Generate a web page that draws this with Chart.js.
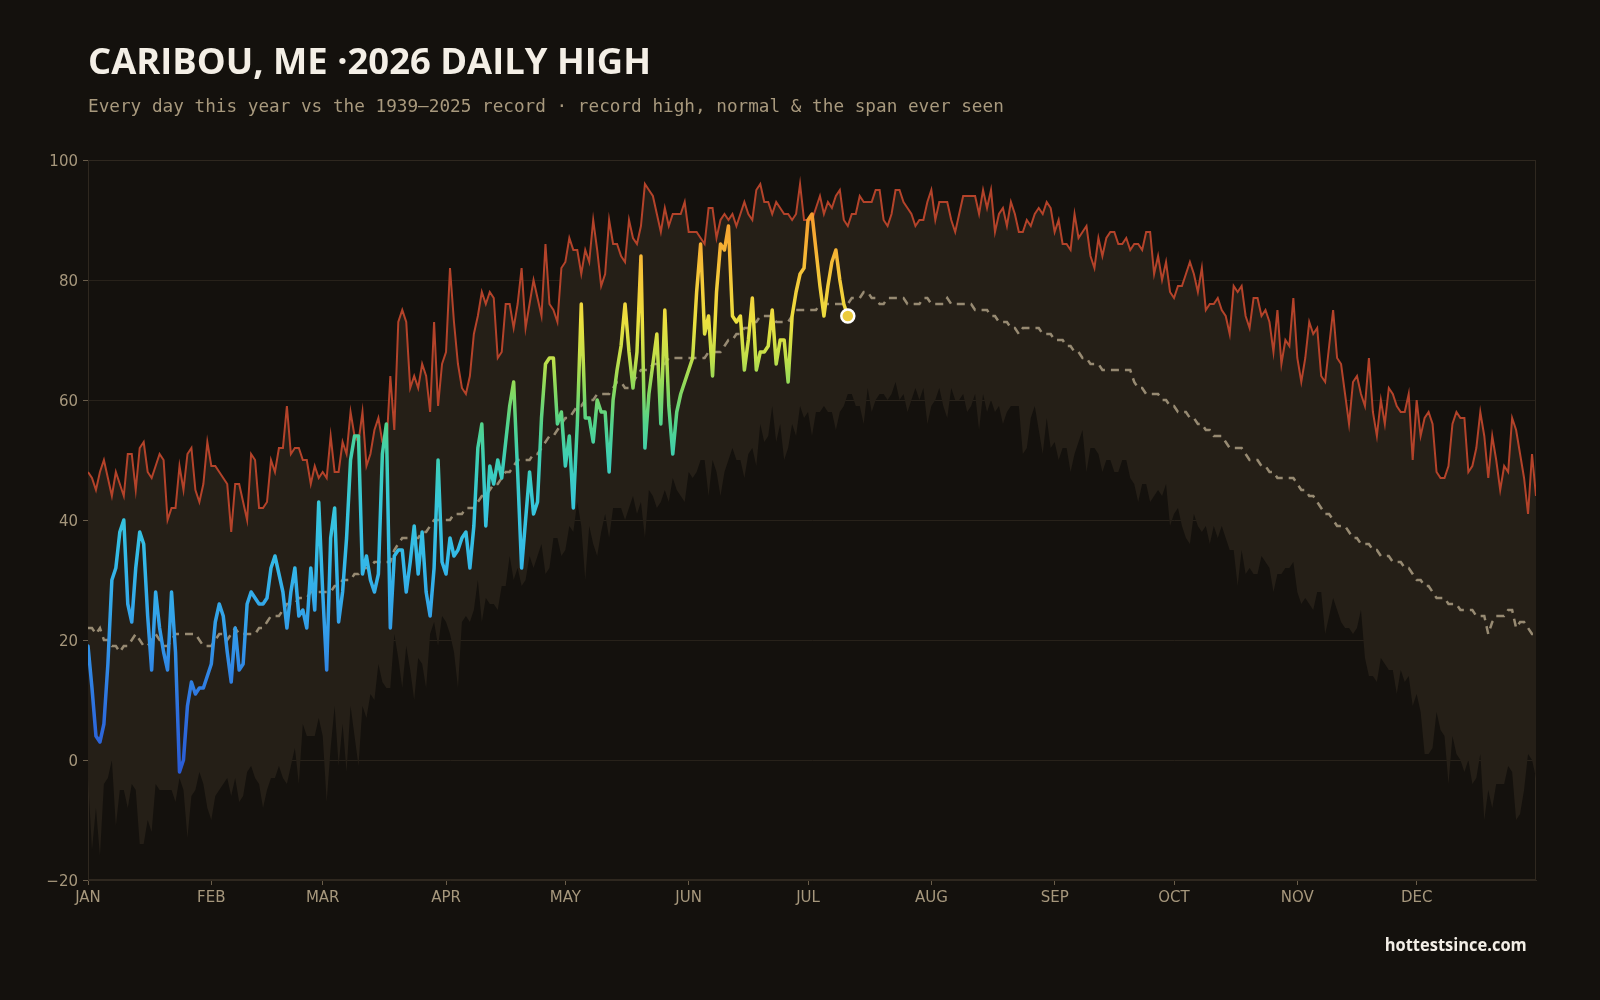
<!DOCTYPE html>
<html>
<head>
<meta charset="utf-8">
<script src="https://cdn.jsdelivr.net/npm/chart.js@4.4.1/dist/chart.umd.min.js"></script>
<style>
  html, body { margin:0; padding:0; background:#14110d; width:1600px; height:1000px; overflow:hidden; }
  #wrap { position:relative; width:1600px; height:1000px; }
  canvas { position:absolute; left:0; top:0; }
  .txt { position:absolute; white-space:nowrap; line-height:1; }
  #title { left:88px; top:43px; font-family:'Open Sans', sans-serif; font-weight:700; font-size:35px; color:#f4efe6; transform-origin:0 0; }
  #subtitle { left:88px; top:98px; font-family:'DejaVu Sans Mono', monospace; font-size:17.7px; color:#a8997d; }
  #footer { right:73px; top:936px; font-family:'Open Sans', sans-serif; font-weight:700; font-size:17px; color:#f3eee6; transform-origin:100% 0; }
</style>
</head>
<body>
<div id="wrap">
  <canvas id="c" width="1600" height="1000"></canvas>
  <div id="title" class="txt">CARIBOU, ME ·2026 DAILY HIGH</div>
  <div id="subtitle" class="txt">Every day this year vs the 1939–2025 record · record high, normal &amp; the span ever seen</div>
  <div id="footer" class="txt">hottestsince.com</div>
</div>
<script>
// ---------- DATA ----------
const MONTHS = ['JAN','FEB','MAR','APR','MAY','JUN','JUL','AUG','SEP','OCT','NOV','DEC'];
const MONTH_START = [0,31,59,90,120,151,181,212,243,273,304,334];
const Y_TICKS = [-20,0,20,40,60,80,100];

// 2026 daily highs (Jan 1 .. Jul 11)
const current2026 = [
 19,12,4,3,6,16,30,32,38,40,
 26,23,32,38,36,24,15,28,22,18,
 15,28,18,-2,0,9,13,11,12,12,
 14,16,23,26,24,18,13,22,15,16,
 26,28,27,26,26,27,32,34,31,28,
 22,28,32,24,25,22,32,25,43,28,
 15,37,42,23,28,37,50,54,54,31,34,
 30,28,31,51,56,22,34,35,35,28,
 33,39,31,38,28,24,32,50,33,31,
 37,34,35,37,38,32,39,52,56,39,
 49,46,50,47,53,59,63,48,32,40,
 48,41,43,57,66,67,67,56,58,49,
 54,42,56,76,57,57,53,60,58,58,
 48,60,65,69,76,68,62,68,84,52,
 61,66,71,56,75,59,51,58,61,63,
 65,67,78,86,71,74,64,78,86,85,
 89,74,73,74,65,70,77,65,68,68,
 69,75,66,70,70,63,74,78,81,82,
 90,91,85,79,74,79,83,85,80,76,74
];

// Record high per day of year (1939-2025)
const recordHigh = [
 48,47,45,48,50,47,44,48,46,44,
 51,51,45,52,53,48,47,49,51,50,
 40,42,42,49,45,51,52,45,43,46,
 53,49,49,48,47,46,38,46,46,43,
 40,51,50,42,42,43,50,48,52,52,
 59,51,52,52,50,50,46,49,47,48,
 47,54,48,48,53,51,58,54,53,58,
 49,51,55,57,53,52,64,55,73,75,
 73,62,64,62,66,64,58,73,59,66,
 68,82,73,66,62,61,64,71,74,78,
 76,78,77,67,68,76,76,72,76,82,
 72,76,80,77,74,86,76,75,73,82,
 83,87,85,85,81,85,83,90,85,79,
 81,90,86,86,84,83,90,87,86,89,
 96,95,94,91,88,92,89,91,91,91,
 93,88,88,88,87,86,92,92,87,90,
 91,90,91,89,91,93,91,90,95,96,
 93,93,91,93,92,91,91,90,91,96,
 90,90,90,92,94,91,93,92,94,95,
 90,89,91,91,94,93,93,93,95,95,
 90,89,91,95,95,93,92,91,89,90,
 90,93,95,90,93,93,93,90,88,91,
 94,94,94,94,91,95,92,95,88,91,
 92,89,93,91,88,88,90,89,91,92,
 91,93,92,88,90,86,86,85,91,87,
 88,89,84,82,87,84,87,88,88,86,
 86,87,85,86,86,85,88,88,81,84,
 80,83,78,77,79,79,81,83,81,78,
 82,75,76,76,77,75,74,71,79,78,
 79,74,72,77,77,74,75,73,68,75,
 66,70,69,77,67,63,67,73,71,72,
 64,63,69,75,67,66,61,56,63,64,
 61,59,67,58,54,60,56,62,61,59,
 58,58,61,50,60,54,57,58,56,48,
 47,47,49,56,58,57,57,48,49,52,
 58,54,47,54,50,45,49,48,57,55,
 51,47,41,51,44
];

// Lowest daily high ever seen per day of year
const recordLow = [
 -3,-15,-8,-16,-4,-3,0,-11,-5,-5,
 -8,-4,-5,-14,-14,-10,-12,-4,-5,-5,
 -5,-5,-7,-3,-5,-13,-6,-5,-2,-4,
 -8,-10,-6,-5,-4,-3,-6,-3,-7,-6,
 -2,-1,-3,-4,-8,-5,-3,-3,-1,-3,
 -4,-1,2,-4,6,4,4,4,7,4,
 -7,2,9,-1,6,-2,9,4,-1,9,
 7,11,10,16,13,12,12,21,17,12,
 19,15,10,17,16,12,21,23,19,24,
 23,21,18,12,23,24,23,25,30,23,
 27,26,26,25,29,29,34,30,32,29,
 30,34,32,34,36,31,32,37,37,34,
 35,39,38,43,39,30,39,36,34,38,
 41,37,42,42,42,40,42,44,41,43,
 37,45,44,42,43,45,43,47,45,44,
 43,48,47,48,50,50,44,50,48,44,
 48,50,52,50,50,47,51,52,49,56,
 53,54,59,53,56,50,52,56,54,59,
 57,58,54,58,58,59,58,58,55,58,
 59,61,61,59,59,56,62,58,60,61,
 61,60,61,63,60,61,58,60,62,60,
 62,56,59,60,62,59,57,62,60,60,
 61,58,59,61,55,61,58,60,58,59,
 56,58,59,59,59,51,52,57,59,55,
 51,57,52,53,50,52,52,48,51,53,
 55,48,52,52,51,48,50,50,48,48,
 50,50,47,46,43,46,46,43,44,45,
 44,46,39,41,42,39,37,36,41,39,
 38,39,36,39,37,39,37,35,35,29,
 35,31,32,31,31,34,33,32,28,31,
 31,32,32,33,28,26,27,26,25,28,
 28,21,24,27,25,23,22,22,21,22,
 25,17,14,14,13,17,16,15,15,11,
 15,13,14,9,11,8,1,1,2,8,
 5,4,-4,4,1,0,-2,0,-4,-3,
 1,-10,-5,-8,-4,-4,-4,-1,-2,-10,
 -9,-5,1,0,-3
];

// Normal daily high
const normalHigh = [
 22,22,21,22,20,20,19,19,18,19,
 19,20,21,20,19,19,20,21,20,19,
 19,20,21,21,21,21,21,21,20,19,
 19,19,20,21,21,20,21,22,21,21,
 21,21,21,22,22,23,24,24,24,25,
 26,26,26,27,27,27,28,28,28,28,
 28,28,29,29,30,30,30,31,31,32,
 32,32,33,33,33,33,33,35,36,37,
 37,37,37,37,38,38,39,40,40,40,
 40,40,41,41,41,42,42,42,43,44,
 44,45,46,46,47,48,48,49,50,50,
 50,50,51,51,52,53,54,54,55,56,
 57,57,58,59,59,60,60,60,61,61,
 61,61,62,63,63,62,62,63,64,65,
 65,65,66,66,66,66,67,67,67,67,
 67,67,67,67,67,67,68,68,68,68,
 69,70,70,71,71,72,72,73,73,74,
 74,74,74,73,73,73,73,74,75,75,
 75,75,75,75,76,76,76,76,76,76,
 76,76,77,77,77,78,78,77,77,76,
 76,77,77,77,77,77,76,76,76,76,
 77,77,76,76,76,76,77,76,76,76,
 76,76,76,75,75,75,75,74,74,73,
 73,73,72,72,71,72,72,72,72,72,
 71,71,71,70,70,70,69,69,68,68,
 67,67,66,66,66,65,65,65,65,65,
 65,65,65,63,62,62,61,61,61,61,
 60,60,59,59,58,58,58,57,57,56,
 56,55,55,54,54,54,53,52,52,52,
 52,51,50,50,50,49,49,48,48,47,
 47,47,47,47,46,45,45,44,44,43,
 42,41,41,40,39,39,39,38,37,37,
 36,36,36,35,35,34,34,34,33,33,
 33,32,32,31,30,30,29,29,28,27,
 27,27,26,26,26,25,25,25,25,24,
 24,24,21,23,24,24,24,25,25,22,
 23,23,22,21,21
];

// ---------- CHART ----------
const toXY = arr => arr.map((v, i) => ({ x: i, y: v }));
const lastIdx = current2026.length - 1;

const COLOR_STOPS = [
  [-5, '#2955d2'], [8, '#2e6fde'], [22, '#339ee9'], [33, '#34b9e8'],
  [42, '#37c6dc'], [50, '#3dcfb6'], [56, '#52d38c'], [62, '#8ad95c'],
  [67, '#c2df4a'], [73, '#ebe03f'], [80, '#f5c93a'], [86, '#f6ae33'], [95, '#f38f2d']
];
let gradCache = null, gradKey = '';
function valueGradient(chart) {
  const area = chart.chartArea;
  if (!area) return '#34b9e8';
  const y = chart.scales.y;
  const y0 = y.getPixelForValue(-5), y1 = y.getPixelForValue(95);
  const key = y0 + ':' + y1;
  if (gradCache && gradKey === key) return gradCache;
  const g = chart.ctx.createLinearGradient(0, y0, 0, y1);
  COLOR_STOPS.forEach(([v, c]) => g.addColorStop((v + 5) / 100, c));
  gradCache = g; gradKey = key;
  return g;
}

const framePlugin = {
  id: 'frame',
  beforeDatasetsDraw(chart) {
    const { ctx, chartArea: a } = chart;
    ctx.save();
    ctx.strokeStyle = '#2f281f';
    ctx.lineWidth = 1;
    ctx.strokeRect(a.left + 0.5, a.top + 0.5, a.right - a.left - 1, a.bottom - a.top - 1);
    ctx.restore();
  }
};

Chart.defaults.font.family = "'DejaVu Sans', sans-serif";

new Chart(document.getElementById('c'), {
  type: 'line',
  data: {
    datasets: [
      {
        label: '2026',
        data: toXY(current2026),
        borderColor: ctx => valueGradient(ctx.chart),
        borderWidth: 3.5,
        borderJoinStyle: 'round',
        borderCapStyle: 'round',
        pointRadius: ctx => ctx.dataIndex === lastIdx ? 6.5 : 0,
        pointBackgroundColor: '#eccb3c',
        pointBorderColor: '#ffffff',
        pointBorderWidth: 2.5,
        fill: false
      },
      {
        label: 'Normal',
        data: toXY(normalHigh),
        borderColor: 'rgba(172,157,130,0.85)',
        borderWidth: 2.5,
        borderDash: [8, 6],
        pointRadius: 0,
        fill: false
      },
      {
        label: 'Record high',
        data: toXY(recordHigh),
        borderColor: '#b4432a',
        borderWidth: 2,
        pointRadius: 0,
        backgroundColor: '#251f17',
        fill: '+1'
      },
      {
        label: 'Record low',
        data: toXY(recordLow),
        borderWidth: 0,
        borderColor: 'rgba(0,0,0,0)',
        pointRadius: 0,
        fill: false
      }
    ]
  },
  options: {
    responsive: false,
    animation: false,
    devicePixelRatio: 1,
    layout: { padding: { left: 28, right: 64, top: 160, bottom: 90 } },
    plugins: { legend: { display: false }, tooltip: { enabled: false }, filler: { propagate: false } },
    elements: { line: { tension: 0 } },
    scales: {
      x: {
        type: 'linear', min: 0, max: 364,
        afterBuildTicks: s => { s.ticks = MONTH_START.map(v => ({ value: v })); },
        afterFit: s => { s.height = 30; },
        ticks: {
          autoSkip: false, maxRotation: 0, minRotation: 0, padding: 4,
          color: '#a6977c', font: { size: 15 },
          callback: v => MONTHS[MONTH_START.indexOf(v)]
        },
        grid: { drawOnChartArea: false, tickLength: 5, tickColor: '#6a5d4a' },
        border: { color: '#2f281f' }
      },
      y: {
        min: -20, max: 100,
        afterBuildTicks: s => { s.ticks = Y_TICKS.map(v => ({ value: v })); },
        afterFit: s => { s.width = 60; },
        ticks: {
          padding: 5, color: '#a6977c', font: { size: 15 }, labelOffset: 2,
          callback: v => v < 0 ? '\u2212' + Math.abs(v) : String(v)
        },
        grid: { color: '#28221a', tickLength: 5, tickColor: '#6a5d4a' },
        border: { color: '#2f281f' }
      }
    }
  },
  plugins: [framePlugin]
});

// fit title / footer widths to the reference
function fit(id, target) {
  const el = document.getElementById(id);
  const w = el.getBoundingClientRect().width;
  if (w > 0) el.style.transform = 'scaleX(' + (target / w) + ')';
}
fit('title', 563);
fit('footer', 142);
</script>
</body>
</html>
